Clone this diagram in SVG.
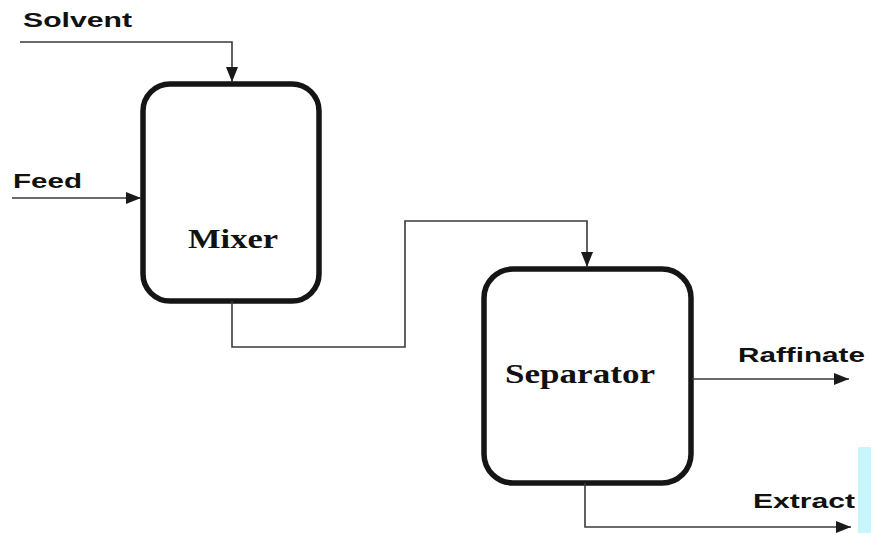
<svg xmlns="http://www.w3.org/2000/svg" width="871" height="533" viewBox="0 0 871 533">
<style>
.box{fill:#fff;stroke:#151515;stroke-width:5.5}
.line{fill:none;stroke:#3a3a3a;stroke-width:1.6}
.lbl{font-family:"Liberation Sans",Arial,sans-serif;font-weight:bold;font-size:21px;fill:#111}
.name{font-family:"Liberation Serif","Times New Roman",serif;font-weight:bold;font-size:27px;fill:#111}
</style>
<defs>
<marker id="arr" markerWidth="16" markerHeight="12" refX="15" refY="6" orient="auto" markerUnits="userSpaceOnUse">
<path d="M0,0 L15,6 L0,12 Z" fill="#1a1a1a"/>
</marker>
</defs>
<rect x="858" y="447" width="13" height="86" fill="#c9f6fb"/>
<g id="mixer">
<rect class="box" x="143" y="84" width="176" height="217" rx="27" ry="27"/>
<text class="name" x="188" y="248" textLength="90" lengthAdjust="spacingAndGlyphs">Mixer</text>
</g>
<g id="separator">
<rect class="box" x="484" y="269" width="207" height="214" rx="29" ry="29"/>
<text class="name" x="505" y="383" textLength="150" lengthAdjust="spacingAndGlyphs">Separator</text>
</g>
<g id="labels">
<text class="lbl" x="23" y="27" textLength="109" lengthAdjust="spacingAndGlyphs">Solvent</text>
<text class="lbl" x="13" y="188" textLength="69" lengthAdjust="spacingAndGlyphs">Feed</text>
<text class="lbl" x="738" y="362" textLength="127" lengthAdjust="spacingAndGlyphs">Raffinate</text>
<text class="lbl" x="753" y="508" textLength="102" lengthAdjust="spacingAndGlyphs">Extract</text>
</g>
<g id="connectors">
<path class="line" d="M20,42 H232 V82" marker-end="url(#arr)"/>
<path class="line" d="M12,198 H141" marker-end="url(#arr)"/>
<path class="line" d="M232,301 V347 H405 V221 H587 V267" marker-end="url(#arr)"/>
<path class="line" d="M692,379 H849" marker-end="url(#arr)"/>
<path class="line" d="M585,483 V527 H851" marker-end="url(#arr)"/>
</g>
</svg>
